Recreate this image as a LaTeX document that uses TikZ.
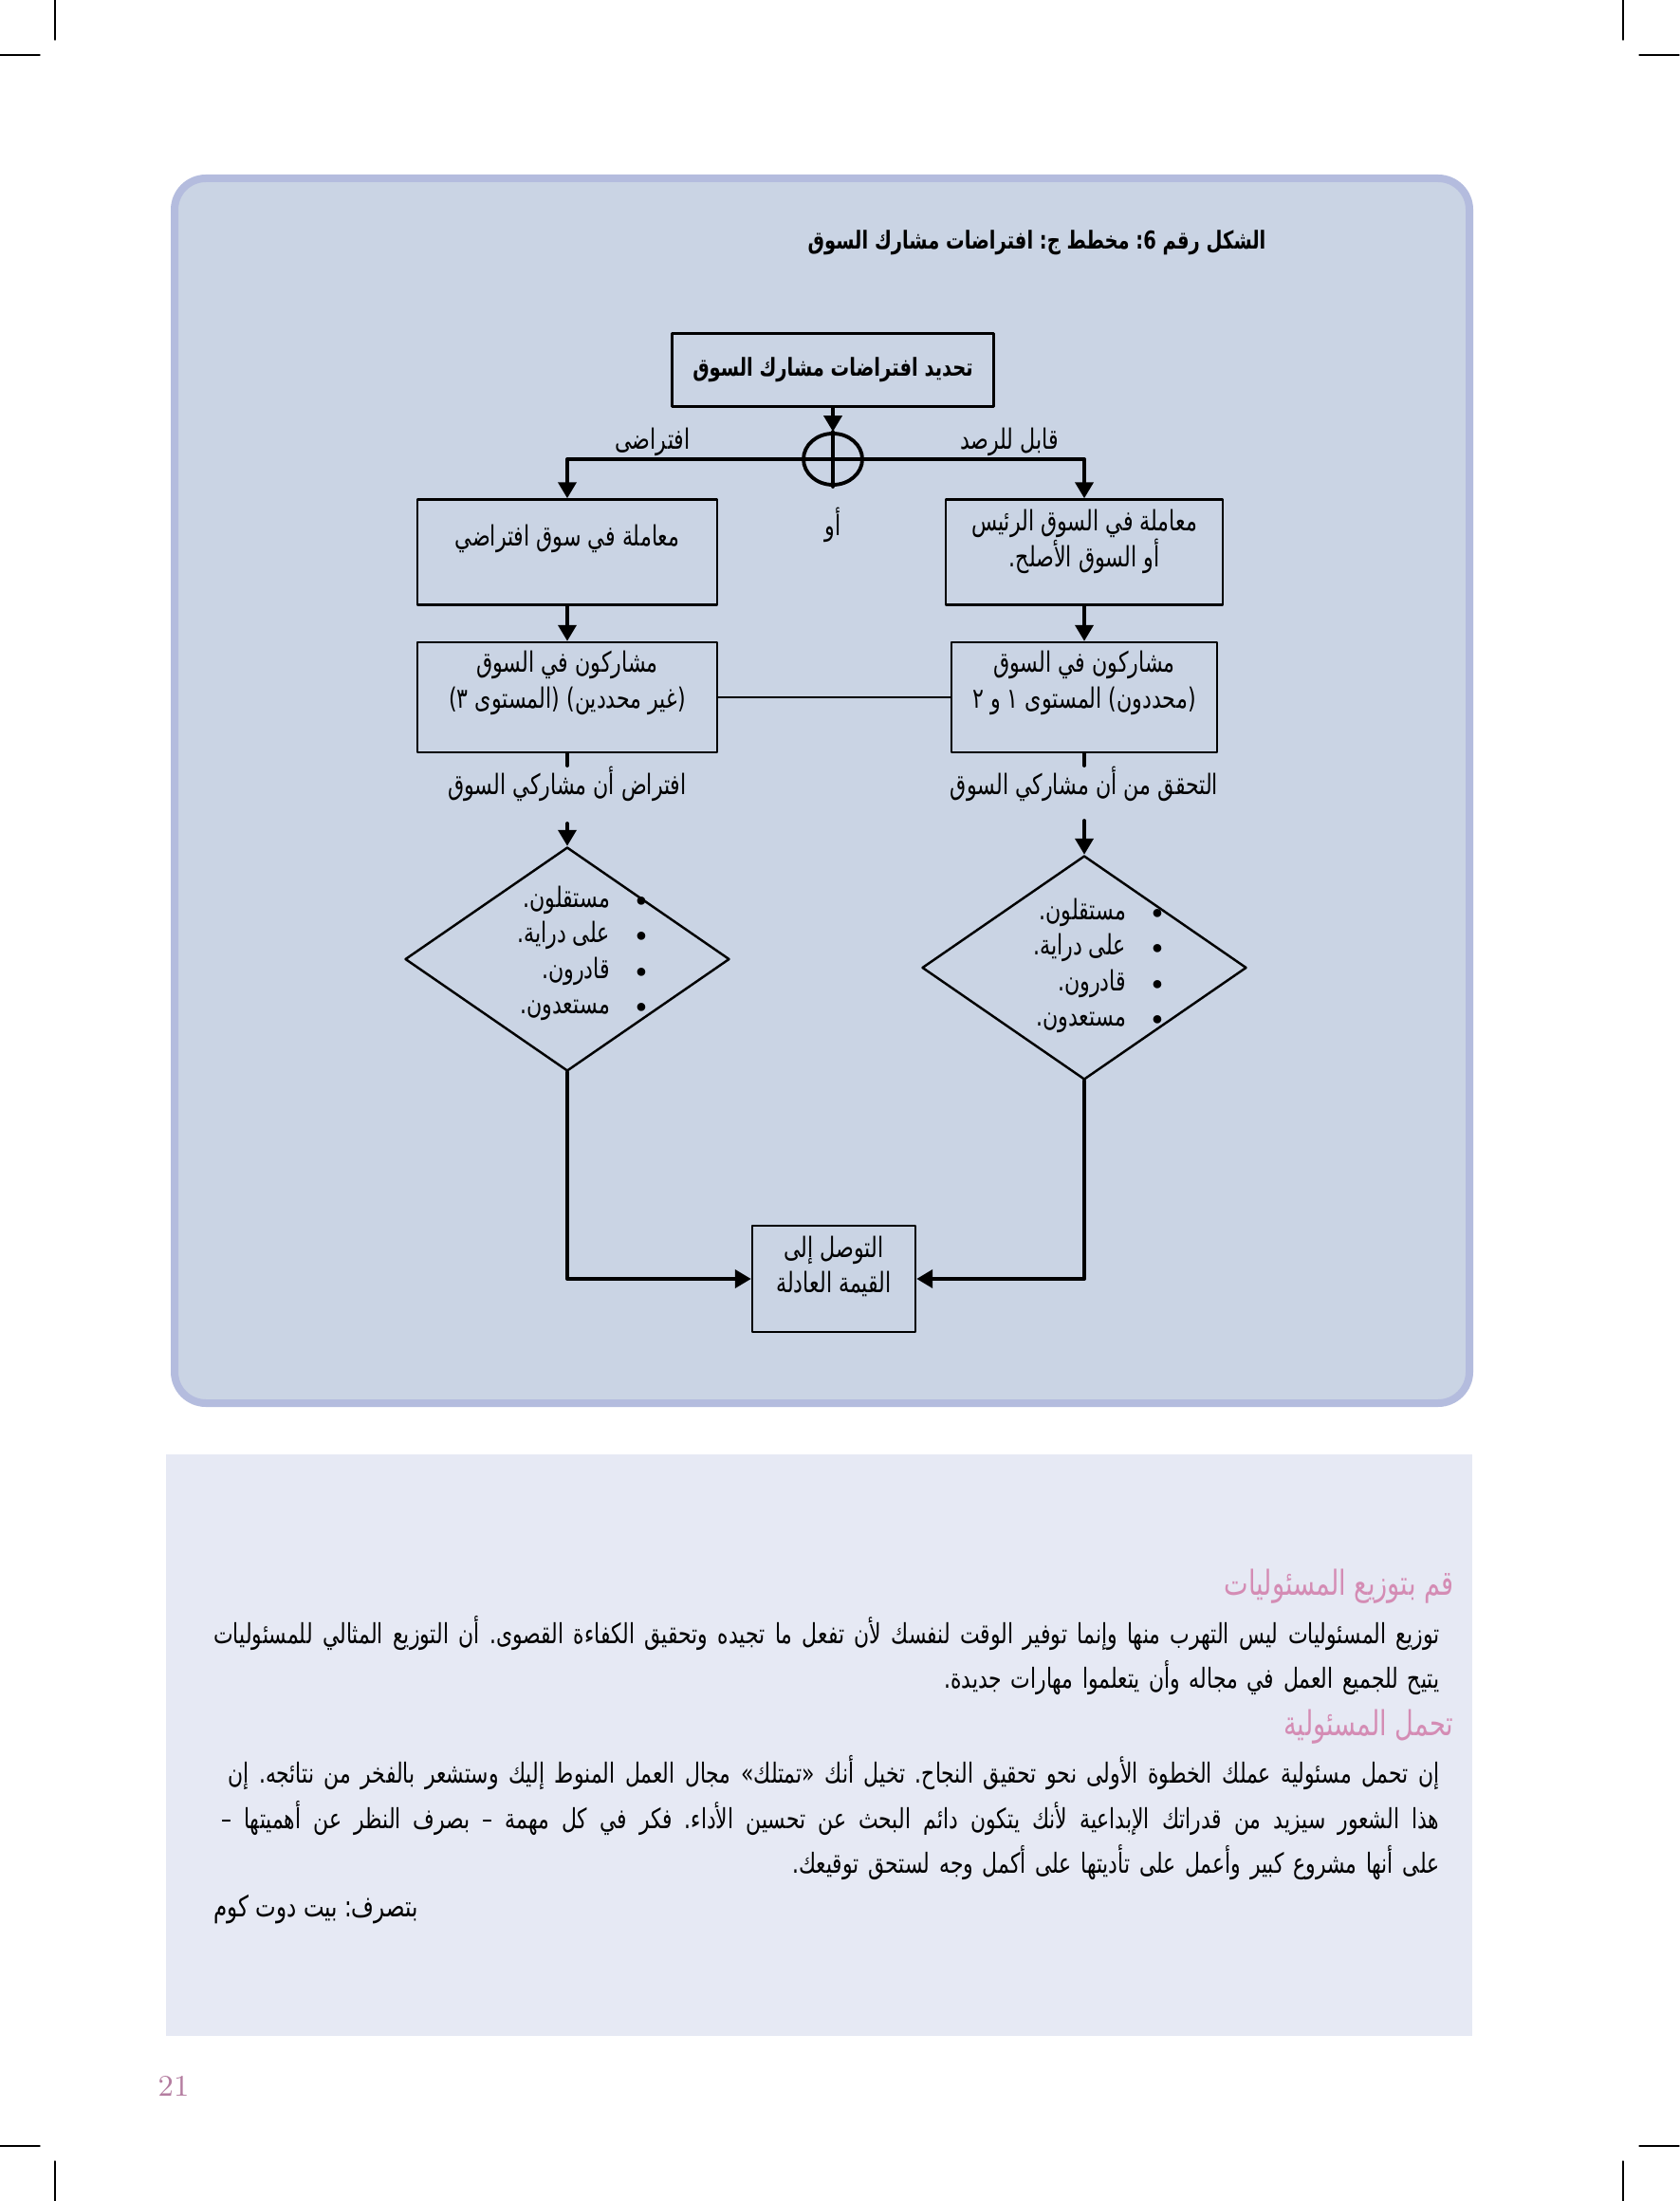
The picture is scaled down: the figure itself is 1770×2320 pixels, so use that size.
\documentclass[tikz,border=0pt]{standalone}
\usepackage{fontspec}
\usetikzlibrary{shapes.geometric, arrows.meta}
\TeXXeTstate=1
\frenchspacing
\newfontfamily\arabicfont[Script=Arabic, FakeStretch=0.75]{DejaVu Sans}
\newlength\unitpx
\setlength\unitpx{0.1mm}
\definecolor{panelblue}{RGB}{202,212,228}
\definecolor{panelrim}{RGB}{180,188,222}
\definecolor{notefill}{RGB}{230,233,244}
\definecolor{headpink}{RGB}{212,140,180}
\definecolor{pagemauve}{RGB}{180,125,160}
\newcommand*\artext[1]{{\arabicfont\beginR #1\endR}}
% full line, spaces may stretch
\newcommand*\arjust[1]{{\arabicfont\spaceskip=\fontdimen2\font plus 1fil\beginR #1\endR}}

\begin{document}
\begin{tikzpicture}[
        x=0.1mm, y=-0.1mm,
        line cap=round, line join=round,
        flowbox/.style={draw, line width=0.7pt, inner sep=0pt},
        flowdia/.style={draw, diamond, line width=0.7pt, inner sep=0pt,
            minimum width=342\unitpx, minimum height=236\unitpx},
        flowtext/.style={font=\fontsize{8.4}{10.6}\selectfont, align=center, inner sep=0pt},
        flowbold/.style={font=\bfseries\fontsize{7.4}{9}\selectfont, inner sep=0pt},
        conn/.style={line width=1.1pt},
        tip/.style={conn, -{Triangle[length=1.7mm, width=1.9mm]}},
        bodytext/.style={font=\fontsize{8.3}{13.5}\selectfont, align=right, inner sep=0pt},
        headtext/.style={font=\fontsize{10.3}{12}\selectfont, text=headpink, inner sep=0pt},
        cropmark/.style={line width=0.4pt}
    ]
    \useasboundingbox (0,0) rectangle (1770,2320);
    \fill[white] (0,0) rectangle (1770,2320);
    \draw[cropmark] (58,0) -- (58,42) (0,58) -- (42,58);
    \draw[cropmark] (1711,0) -- (1711,42) (1728,58) -- (1770,58);
    \draw[cropmark] (58,2278) -- (58,2320) (0,2262) -- (42,2262);
    \draw[cropmark] (1711,2278) -- (1711,2320) (1728,2262) -- (1770,2262);

    \draw[draw=panelrim, fill=panelblue, line width=0.8mm, rounded corners=33\unitpx]
        (184,188) rectangle (1549,1479);
    \fill[notefill] (175,1533) rectangle (1552,2146);

    \node[flowbold, anchor=east] (title) at (1335,256)
        {\artext{الشكل رقم 6: مخطط ج: افتراضات مشارك السوق}};

    \node[flowbox, flowbold, minimum width=339\unitpx, minimum height=77\unitpx] (define) at (878,390)
        {\artext{تحديد افتراضات مشارك السوق}};
    \node[draw, ellipse, line width=1.1pt, minimum width=62\unitpx, minimum height=54\unitpx,
        inner sep=0pt] (orsign) at (878,484) {};
    \node[flowtext] (orword) at (878,553) {\artext{أو}};
    \node[flowtext] (virtlbl) at (688,466) {\artext{افتراضى}};
    \node[flowtext] (obslbl) at (1064,466) {\artext{قابل للرصد}};

    \node[flowbox, minimum width=316\unitpx, minimum height=111\unitpx] (virtbox) at (598,582) {};
    \node[flowtext] (virttext) at (598,568) {\artext{معاملة في سوق افتراضي}};
    \node[flowbox, minimum width=292\unitpx, minimum height=111\unitpx] (mainbox) at (1143,582) {};
    \node[flowtext] (maintext) at (1143,571)
        {\artext{معاملة في السوق الرئيس}\\\artext{أو السوق الأصلح.}};

    \node[flowbox, minimum width=316\unitpx, minimum height=116\unitpx] (vagueparts) at (598,735) {};
    \node[flowtext] (vaguetext) at (598,720)
        {\artext{مشاركون في السوق}\\\artext{(غير محددين) (المستوى ٣)}};
    \node[flowbox, minimum width=280\unitpx, minimum height=116\unitpx] (knownparts) at (1143,735) {};
    \node[flowtext] (knowntext) at (1143,720)
        {\artext{مشاركون في السوق}\\\artext{(محددون) المستوى ١ و ٢}};

    \node[flowtext] (assumelbl) at (598,826) {\artext{افتراض أن مشاركي السوق}};
    \node[flowtext] (verifylbl) at (1143,826) {\artext{التحقق من أن مشاركي السوق}};

    \node[flowdia] (assumedia) at (598,1011) {};
    \node[flowtext, align=right, anchor=east] (assumelist) at (689,1005)
        {\artext{مستقلون.}\hspace{21\unitpx}\textbullet\\
         \artext{على دراية.}\hspace{21\unitpx}\textbullet\\
         \artext{قادرون.}\hspace{21\unitpx}\textbullet\\
         \artext{مستعدون.}\hspace{21\unitpx}\textbullet};
    \node[flowdia] (verifydia) at (1143,1020) {};
    \node[flowtext, align=right, anchor=east] (verifylist) at (1233,1018)
        {\artext{مستقلون.}\hspace{21\unitpx}\textbullet\\
         \artext{على دراية.}\hspace{21\unitpx}\textbullet\\
         \artext{قادرون.}\hspace{21\unitpx}\textbullet\\
         \artext{مستعدون.}\hspace{21\unitpx}\textbullet};

    \node[flowbox, minimum width=172\unitpx, minimum height=112\unitpx] (fairvalue) at (879,1348) {};
    \node[flowtext] (fairtext) at (879,1335) {\artext{التوصل إلى}\\\artext{القيمة العادلة}};

    \draw[tip] (define) -- (orsign);
    \draw[conn] (orsign.north) -- (orsign.south);
    \draw[tip] (orsign.center) -| (virtbox);
    \draw[tip] (orsign.center) -| (mainbox);
    \draw[tip] (virtbox) -- (vagueparts);
    \draw[tip] (mainbox) -- (knownparts);
    \draw[line width=0.7pt] (vagueparts) -- (knownparts);
    \draw[conn] (vagueparts) -- (assumelbl);
    \draw[conn] (knownparts) -- (verifylbl);
    \draw[tip, shorten <=23\unitpx] (assumelbl) -- (assumedia);
    \draw[tip, shorten <=20\unitpx] (verifylbl) -- (verifydia);
    \draw[tip] (assumedia.south) |- (fairvalue);
    \draw[tip] (verifydia.south) |- (fairvalue);

    \node[headtext, anchor=east] (duties) at (1533,1672) {\artext{قم بتوزيع المسئوليات}};
    \node[bodytext, anchor=east, text width=1292\unitpx] (dutiespara) at (1518,1745)
        {\makebox[1292\unitpx][s]{\arjust{توزيع المسئوليات ليس التهرب منها وإنما توفير الوقت لنفسك لأن تفعل ما تجيده وتحقيق الكفاءة القصوى. أن التوزيع المثالي للمسئوليات}}\\
         \artext{يتيح للجميع العمل في مجاله وأن يتعلموا مهارات جديدة.}};
    \node[headtext, anchor=east] (owning) at (1533,1820) {\artext{تحمل المسئولية}};
    \node[bodytext, anchor=east, text width=1284\unitpx] (owningpara) at (1518,1916)
        {\makebox[1277\unitpx][s]{\arjust{إن تحمل مسئولية عملك الخطوة الأولى نحو تحقيق النجاح. تخيل أنك «تمتلك» مجال العمل المنوط إليك وستشعر بالفخر من نتائجه. إن}}\\
         \makebox[1284\unitpx][s]{\arjust{هذا الشعور سيزيد من قدراتك الإبداعية لأنك يتكون دائم البحث عن تحسين الأداء. فكر في كل مهمة – بصرف النظر عن أهميتها –}}\\
         \artext{على أنها مشروع كبير وأعمل على تأديتها على أكمل وجه لستحق توقيعك.}};
    \node[bodytext, font=\fontsize{8.7}{10}\selectfont, anchor=west] (source) at (225,2013)
        {\artext{بتصرف: بيت دوت كوم}};

    \node[font=\fontsize{9}{9}\selectfont, text=pagemauve, inner sep=0pt] (pagenum) at (183,2199) {21};
\end{tikzpicture}
\end{document}
